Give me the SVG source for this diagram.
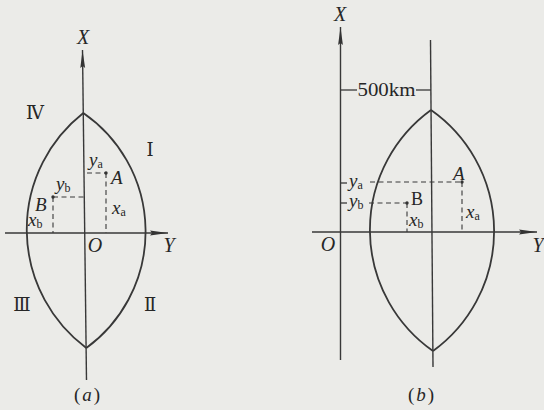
<svg xmlns="http://www.w3.org/2000/svg" width="544" height="410" viewBox="0 0 544 410">
<defs>
<marker id="arr" viewBox="0 0 18 6" refX="18" refY="3" markerWidth="18" markerHeight="6" orient="auto" markerUnits="userSpaceOnUse">
<path d="M0,0.6 L18,3 L0,5.4 L2,3 z" fill="#333"/>
</marker>
</defs>
<style>
.ax{stroke:#383838;stroke-width:1.4;fill:none}
.lens{stroke:#383838;stroke-width:1.8;fill:none}
.dash{stroke:#383838;stroke-width:1.1;fill:none;stroke-dasharray:5 3.5}
.tick{stroke:#383838;stroke-width:1.3}
.pt{fill:#333}
text{font-family:"Liberation Serif","Times New Roman",serif;fill:#262626}
.it{font-style:italic;font-size:19px}
.big{font-style:italic;font-size:20px}
.sub{font-style:normal;font-size:12px}
.rom{font-family:"DejaVu Serif","Noto Sans CJK SC",serif;font-size:18px}
.cap{font-size:18px}
.lbl{font-size:19px;letter-spacing:2px}
</style>
<rect width="544" height="410" fill="#ebebe8"/>

<g id="fig-a">
<g id="a-axes">
<line class="ax" x1="86.5" y1="380" x2="82.5" y2="50" marker-end="url(#arr)"/>
<line class="ax" x1="5" y1="233" x2="168" y2="233" marker-end="url(#arr)"/>
</g>
<g id="a-lens">
<path class="lens" d="M83.3,113 A148,148 0 0 0 86.3,348"/>
<path class="lens" d="M83.3,113 A144,144 0 0 1 86.3,348"/>
</g>
<g id="a-points">
<line class="dash" x1="87" y1="173" x2="106" y2="173"/>
<line class="dash" x1="106" y1="173" x2="106" y2="233"/>
<line class="dash" x1="53" y1="197" x2="84" y2="197"/>
<line class="dash" x1="53" y1="197" x2="53" y2="233"/>
<circle class="pt" cx="106" cy="173" r="1.7"/>
<circle class="pt" cx="53" cy="197" r="1.7"/>
</g>
<g id="a-labels">
<text class="big" x="83" y="44" text-anchor="middle">X</text>
<text class="big" x="169" y="252" text-anchor="middle">Y</text>
<text class="big" x="95" y="252" text-anchor="middle">O</text>
<text class="it" x="111" y="184">A</text>
<text class="it" x="35" y="211">B</text>
<text class="it" x="89" y="166">y<tspan class="sub" dy="2">a</tspan></text>
<text class="it" x="56" y="190">y<tspan class="sub" dy="2">b</tspan></text>
<text class="it" x="112" y="214">x<tspan class="sub" dy="2">a</tspan></text>
<text class="it" x="28" y="226">x<tspan class="sub" dy="2">b</tspan></text>
<text class="rom" x="35" y="119" text-anchor="middle">Ⅳ</text>
<text class="rom" x="150" y="156" text-anchor="middle">Ⅰ</text>
<text class="rom" x="22" y="311" text-anchor="middle">Ⅲ</text>
<text class="rom" x="150" y="311" text-anchor="middle">Ⅱ</text>
<text class="lbl" x="88" y="401" text-anchor="middle">(<tspan font-style="italic">a</tspan>)</text>
</g>
</g>

<g id="fig-b">
<g id="b-axes">
<line class="ax" x1="340.5" y1="360" x2="340.5" y2="27" marker-end="url(#arr)"/>
<line class="ax" x1="312" y1="232" x2="537" y2="232" marker-end="url(#arr)"/>
<line class="ax" x1="430.5" y1="40" x2="433" y2="367"/>
</g>
<g id="b-dim">
<line class="tick" x1="340" y1="90" x2="357" y2="90" stroke-width="1.9"/>
<line class="tick" x1="416" y1="90" x2="431" y2="90" stroke-width="1.9"/>
<text x="386.5" y="96" font-size="18" text-anchor="middle" textLength="58" lengthAdjust="spacingAndGlyphs">500km</text>
</g>
<g id="b-lens">
<path class="lens" d="M431,110 A148,148 0 0 0 433,351"/>
<path class="lens" d="M431,110 A148,148 0 0 1 433,351"/>
</g>
<g id="b-points">
<line class="tick" x1="341" y1="183" x2="347" y2="183" stroke-width="1.1"/>
<line class="tick" x1="341" y1="203" x2="347" y2="203" stroke-width="1.1"/>
<line class="dash" x1="370" y1="182" x2="462" y2="182"/>
<line class="dash" x1="462" y1="182" x2="462" y2="232"/>
<line class="dash" x1="369" y1="203" x2="407" y2="203"/>
<line class="dash" x1="407" y1="203" x2="407" y2="232"/>
<circle class="pt" cx="462" cy="182" r="1.7"/>
<circle class="pt" cx="407" cy="203" r="1.7"/>
</g>
<g id="b-labels">
<text class="big" x="340" y="21" text-anchor="middle">X</text>
<text class="big" x="538" y="252" text-anchor="middle">Y</text>
<text class="big" x="328" y="251" text-anchor="middle">O</text>
<text class="it" x="453" y="180">A</text>
<text class="cap" x="411" y="205">B</text>
<text class="it" x="349" y="187">y<tspan class="sub" dy="2">a</tspan></text>
<text class="it" x="349" y="207">y<tspan class="sub" dy="2">b</tspan></text>
<text class="it" x="466" y="218">x<tspan class="sub" dy="2">a</tspan></text>
<text class="it" x="409" y="226">x<tspan class="sub" dy="2">b</tspan></text>
<text class="lbl" x="422" y="401" text-anchor="middle">(<tspan font-style="italic">b</tspan>)</text>
</g>
</g>
</svg>
